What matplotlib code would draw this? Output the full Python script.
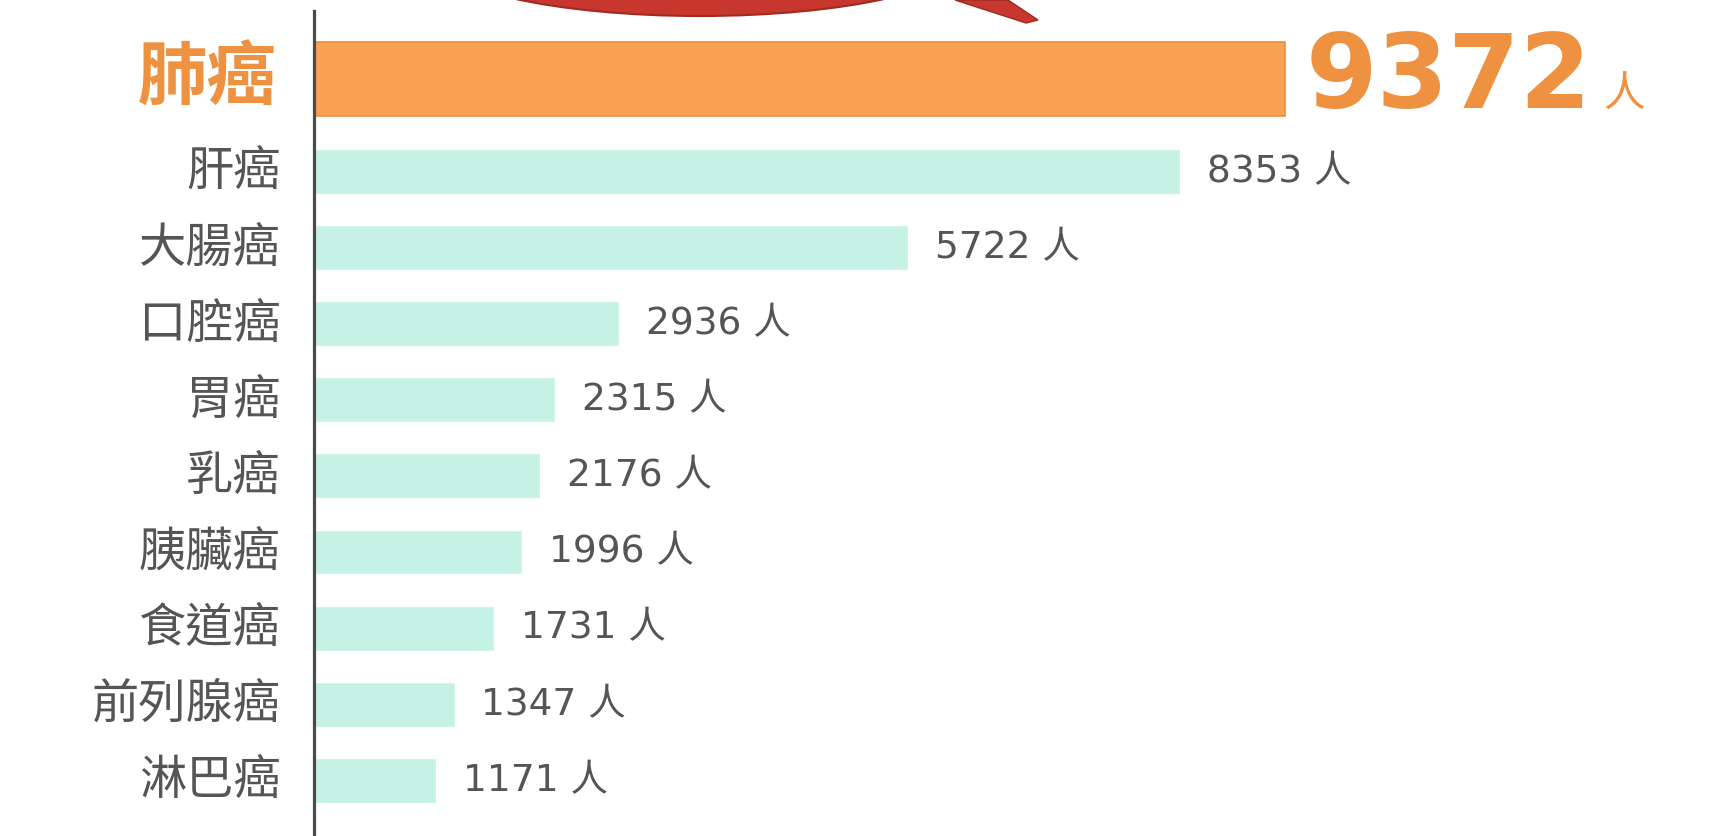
import numpy as np
import matplotlib
matplotlib.use('Agg')
import matplotlib.pyplot as plt
from matplotlib.patches import Ellipse, Polygon

# 数据
categories = ['肺癌', '肝癌', '大腸癌', '口腔癌', '胃癌', '乳癌', '胰臟癌', '食道癌', '前列腺癌', '淋巴癌']
values = [9372, 8353, 5722, 2936, 2315, 2176, 1996, 1731, 1347, 1171]
unit = '人'

CJK = 'Noto Sans CJK TC'
NUM = ['DejaVu Sans', CJK]

W, H = 1729, 836
fig = plt.figure(figsize=(W / 100, H / 100), dpi=100)
fig.patch.set_facecolor('white')

# 顶部红色装饰（像素坐标）
px = lambda x, y: (x / W, 1 - y / H)
deco = Ellipse(px(700, -45), 532 / W, 122 / H, transform=fig.transFigure,
               facecolor='#c8372d', edgecolor='#9e2a22', lw=1.5, zorder=0)
fig.patches.append(deco)
tail = Polygon([px(955, 0), px(1008, 0), px(1038, 20), px(1026, 23)],
               closed=True, transform=fig.transFigure,
               facecolor='#c8372d', edgecolor='#9e2a22', lw=1, zorder=0)
fig.patches.append(tail)

ax = fig.add_axes([314 / W, 0, 1 - 314 / W, 1])
ax.set_facecolor('none')

# 位置：第一条稍微上移
pos = np.arange(len(categories), dtype=float)
pos[0] -= 0.22
heights = [0.98] + [0.55] * (len(categories) - 1)
colors = ['#f9a253'] + ['#c6f2e5'] * (len(categories) - 1)
edges = ['#e8913f'] + ['#c6f2e5'] * (len(categories) - 1)

ax.barh(pos, values, height=heights, color=colors, edgecolor=edges, linewidth=1.2)

ax.set_xlim(0, 13660)
ax.set_ylim(9.725, -1.26)

for sp in ['top', 'right', 'bottom']:
    ax.spines[sp].set_visible(False)
ax.spines['left'].set_color('#4a4a4a')
ax.spines['left'].set_linewidth(2.3)
ax.spines['left'].set_bounds(-1.115, 9.725)
ax.set_xticks([])
ax.set_yticks([])

gray = '#555555'
orange = '#ee9140'

for i, (cat, v, y) in enumerate(zip(categories, values, pos)):
    if i == 0:
        ax.annotate(cat, xy=(0, y), xytext=(-27, 0), textcoords='offset points',
                    ha='right', va='center', fontsize=50, fontweight='bold',
                    color=orange, family=CJK)
        t = ax.annotate(str(v), xy=(v, y), xytext=(15, 0), textcoords='offset points',
                        ha='left', va='center', fontsize=74, fontweight='bold',
                        color=orange, family=NUM)
        ax.annotate(unit, xy=(1, 0.14), xycoords=t, xytext=(8, 0),
                    textcoords='offset points', ha='left', va='bottom',
                    fontsize=30, color=orange, family=CJK)
    else:
        ax.annotate(cat, xy=(0, y), xytext=(-24, 0), textcoords='offset points',
                    ha='right', va='center', fontsize=34, color=gray, family=CJK)
        ax.annotate(f'{v} {unit}', xy=(v, y), xytext=(20, 0), textcoords='offset points',
                    ha='left', va='center', fontsize=27, color=gray, family=NUM)

fig.savefig('out.png', dpi=100, facecolor='white')
